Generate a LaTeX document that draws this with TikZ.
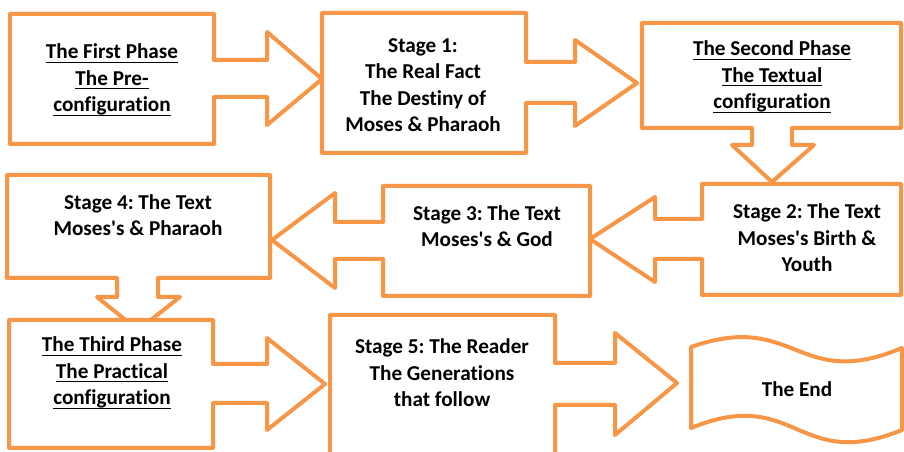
\documentclass[tikz,border=0pt]{standalone}
\usepackage{fontspec}
\setmainfont{Carlito}[Ligatures={TeX,NoCommon}]
\definecolor{boxorange}{RGB}{247,150,70}
\newcommand\ulbox[1]{\setbox0\hbox{#1}\rlap{\rule[-3pt]{\wd0}{1pt}}\box0}
\newcommand\apo{\textquotesingle}
\frenchspacing
\begin{document}
\begin{tikzpicture}[x=0.75pt,y=-0.75pt,
  shapebox/.style={draw=boxorange,line width=3pt,fill=white,line join=round},
  txt/.style={font=\fontsize{15.9}{19.9}\selectfont\bfseries,align=center,inner sep=0pt}]
\useasboundingbox (0,0) rectangle (904,452);
\clip (0,0) rectangle (904,452);
% First Phase
\draw[shapebox] (10,14) -- (214,14) -- (214,60) -- (267,60) -- (267,32) -- (322,79) -- (267,125) -- (267,97) -- (214,97) -- (214,144) -- (10,144) -- cycle;
% Stage 1
\draw[shapebox] (322,13) -- (526,13) -- (526,62) -- (575,62) -- (575,40) -- (637,83) -- (575,126) -- (575,103) -- (526,103) -- (526,153) -- (322,153) -- cycle;
% Second Phase
\draw[shapebox] (642,23) -- (901,23) -- (901,128) -- (792,128) -- (792,145) -- (814,145) -- (772,182) -- (732,145) -- (752,145) -- (752,128) -- (642,128) -- cycle;
% Stage 2
\draw[shapebox] (702,184) -- (901,184) -- (901,295) -- (702,295) -- (702,259) -- (655,259) -- (655,282) -- (590,239) -- (655,197) -- (655,219) -- (702,219) -- cycle;
% Stage 3
\draw[shapebox] (383,186) -- (590,186) -- (590,296) -- (383,296) -- (383,259) -- (335,259) -- (335,288) -- (272,240) -- (335,193) -- (335,222) -- (383,222) -- cycle;
% Stage 4
\draw[shapebox] (7,175) -- (270,175) -- (270,278) -- (158,278) -- (158,297) -- (180,297) -- (138,330) -- (97,297) -- (117,297) -- (117,278) -- (7,278) -- cycle;
% Third Phase
\draw[shapebox] (9,320) -- (213,320) -- (213,364) -- (267,364) -- (267,338) -- (325,384) -- (267,430) -- (267,403) -- (213,403) -- (213,448) -- (9,448) -- cycle;
% Stage 5
\draw[shapebox] (330,315) -- (555,315) -- (555,363) -- (615,363) -- (615,333) -- (677,383) -- (615,435) -- (615,405) -- (555,405) -- (555,462) -- (330,462) -- cycle;
% The End
\draw[shapebox] (691,347) .. controls (796,310) and (797,392) .. (902,348) -- (902,430) .. controls (797,473) and (796,385) .. (691,428) -- cycle;

\node[txt] (t1) at (112,80) {\ulbox{The First Phase}\\\ulbox{The Pre-}\\\ulbox{configuration}};
\node[txt] (t2) at (423,85) {Stage 1:\\The Real Fact\\The Destiny of\\Moses \& Pharaoh};
\node[txt] (t3) at (772,77) {\ulbox{The Second Phase}\\\ulbox{The Textual}\\\ulbox{configuration}};
\node[txt] (t4) at (807,238) {Stage 2: The Text\\Moses\apo s Birth \&\\Youth};
\node[txt] (t5) at (487,226) {Stage 3: The Text\\Moses\apo s \& God};
\node[txt] (t6) at (138,215) {Stage 4: The Text\\Moses\apo s \& Pharaoh};
\node[txt] (t7) at (112,373) {\ulbox{The Third Phase}\\\ulbox{The Practical}\\\ulbox{configuration}};
\node[txt] (t8) at (442,373) {Stage 5: The Reader\\The Generations\\that follow};
\node[txt] (t9) at (797,389) {The End};
\end{tikzpicture}
\end{document}
